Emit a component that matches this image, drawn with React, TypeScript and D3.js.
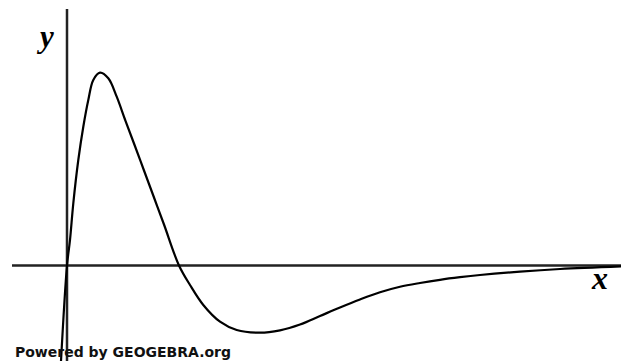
import React from "react";
import * as d3 from "d3";

// curve samples (x, y in graph units)
const xs = [-0.12, 0, 0.06, 0.126, 0.226, 0.326, 0.426, 0.526, 0.66, 0.826, 0.994, 1.16, 1.34, 1.54, 1.74, 1.94, 2.24, 2.46, 2.726, 3.06, 3.394, 3.86, 4.26, 4.66, 5.06, 5.46, 5.86, 6.26, 6.66, 7.06, 7.46, 7.86, 8.26, 9.06, 9.86, 11.08];
const ys = [-1.91, 0, 0.51, 1.244, 2.11, 2.776, 3.31, 3.71, 3.856, 3.744, 3.376, 2.92, 2.44, 1.9, 1.36, 0.82, 0, -0.39, -0.79, -1.124, -1.29, -1.344, -1.296, -1.18, -1.01, -0.84, -0.68, -0.536, -0.426, -0.35, -0.286, -0.234, -0.19, -0.122, -0.07, -0.018];

const xDomain = [-1.1, 11.08];
const yDomain = [-1.91, 5.13];

const W = 621;
const H = 361;

const App: React.FC = () => {
    const x = d3.scaleLinear().domain(xDomain).range([12, 621]);
    const y = d3.scaleLinear().domain(yDomain).range([361, 9]);

    const pts: [number, number][] = xs.map((v, i) => [v, ys[i]]);
    const line = d3
        .line<[number, number]>()
        .x(d => x(d[0]))
        .y(d => y(d[1]))
        .curve(d3.curveCatmullRom.alpha(0.5));

    return (
        <svg
            width={W}
            height={H}
            style={{ position: "absolute", left: 0, top: 0, background: "#fff" }}
        >
            <line x1={x(xDomain[0])} x2={x(xDomain[1])} y1={y(0)} y2={y(0)} stroke="#222" strokeWidth={2.5} />
            <line x1={x(0)} x2={x(0)} y1={y(yDomain[1])} y2={y(yDomain[0])} stroke="#222" strokeWidth={2.5} />
            <path d={line(pts) ?? ""} fill="none" stroke="#000" strokeWidth={2.2} />
            <text x={40} y={47} fontFamily="Liberation Serif" fontStyle="italic" fontWeight="bold" fontSize={31}>y</text>
            <text x={592} y={289} fontFamily="Liberation Serif" fontStyle="italic" fontWeight="bold" fontSize={32}>x</text>
            <text x={15} y={357} fontFamily="DejaVu Sans" fontWeight="bold" fontSize={14} textLength={216} lengthAdjust="spacingAndGlyphs" fill="#111">
                Powered by GEOGEBRA.org
            </text>
        </svg>
    );
};

export default App;
